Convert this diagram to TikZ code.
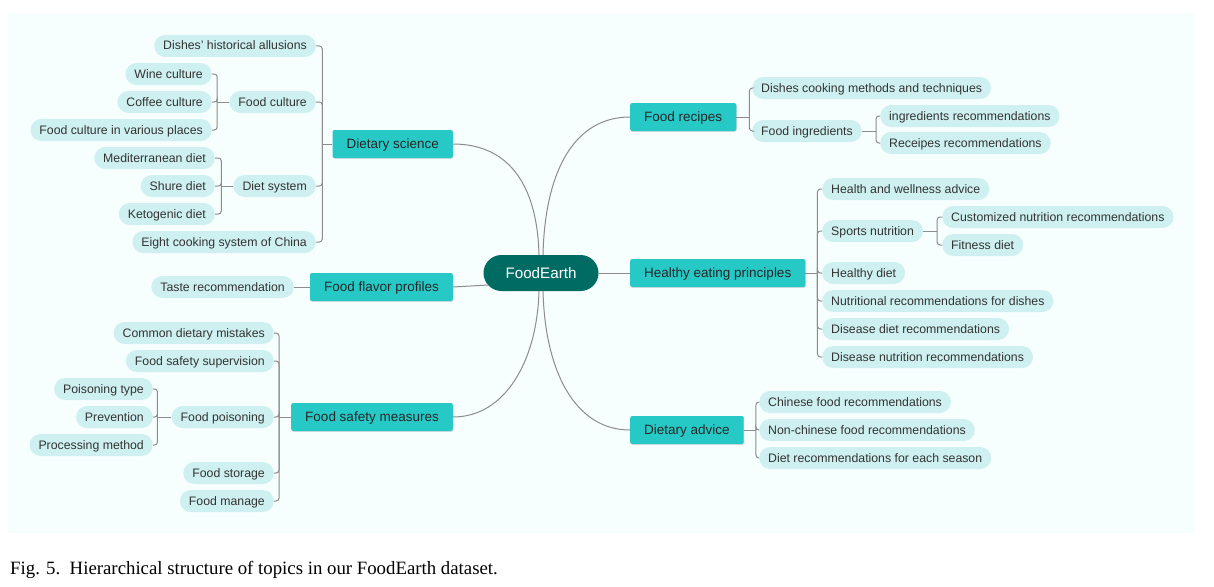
\documentclass[tikz,border=0pt]{standalone}
\usepackage{fontspec}
\setmainfont{Liberation Sans}
\newfontfamily\capfont{Liberation Serif}
\usetikzlibrary{shadows,calc}
\definecolor{bgc}{RGB}{247,254,254}
\definecolor{mainc}{RGB}{38,201,198}
\definecolor{leafc}{RGB}{207,240,240}
\definecolor{rootc}{RGB}{0,107,99}
\definecolor{linec}{RGB}{140,140,140}
\definecolor{txtc}{RGB}{51,51,51}
\begin{document}
\begin{tikzpicture}[x=1pt,y=-1pt,
  leaf/.style={fill=leafc, rounded corners=11pt, minimum height=22pt, inner xsep=9pt, inner ysep=0pt,
    text height=10.5pt, text depth=2.5pt, text=txtc, font=\fontsize{12.3}{14}\selectfont},
  topic/.style={fill=mainc, rounded corners=2pt, minimum height=28pt, inner xsep=14pt, inner ysep=0pt,
    text height=11.5pt, text depth=2.5pt, text=black!85, font=\fontsize{13.5}{16}\selectfont,
    drop shadow={shadow xshift=0.6pt, shadow yshift=-0.9pt, opacity=0.25, fill=black!50}},
  rootn/.style={fill=rootc, rounded corners=18pt, minimum height=36pt, minimum width=115pt, inner xsep=10pt,
    inner ysep=0pt, text height=12.5pt, text depth=2pt, text=white, font=\fontsize{15.2}{18}\selectfont},
  conn/.style={draw=linec, line width=1pt},
  br/.style={conn, rounded corners=3pt}]
\useasboundingbox (0,0) rectangle (1214,586);
\fill[white] (0,0) rectangle (1214,586);
\fill[bgc] (8,13) rectangle (1195,533);

% root and topics
\node[rootn] (root) at (541,273) {FoodEarth};
\node[topic, anchor=east] (ds) at (453,144) {Dietary science};
\node[topic, anchor=east] (ff) at (453,287) {Food flavor profiles};
\node[topic, anchor=east] (fs) at (453,417) {Food safety measures};
\node[topic, anchor=west] (fr) at (630,117) {Food recipes};
\node[topic, anchor=west] (he) at (630,273) {Healthy eating principles};
\node[topic, anchor=west] (da) at (630,430) {Dietary advice};

% Dietary science
\node[leaf, anchor=east] (dha) at (316,46) {Dishes’ historical allusions};
\node[leaf, anchor=east] (fc) at (316,102) {Food culture};
\node[leaf, anchor=east] (dsy) at (316,186) {Diet system};
\node[leaf, anchor=east] (ecs) at (316,242) {Eight cooking system of China};
\node[leaf, anchor=east] (wc) at (212,74) {Wine culture};
\node[leaf, anchor=east] (cc) at (212,102) {Coffee culture};
\node[leaf, anchor=east] (fcv) at (212,130) {Food culture in various places};
\node[leaf, anchor=east] (md) at (215,158) {Mediterranean diet};
\node[leaf, anchor=east] (sd) at (215,186) {Shure diet};
\node[leaf, anchor=east] (kd) at (215,214) {Ketogenic diet};

% Food flavor
\node[leaf, anchor=east] (tr) at (294,287) {Taste recommendation};

% Food safety
\node[leaf, anchor=east] (cdm) at (274,333) {Common dietary mistakes};
\node[leaf, anchor=east] (fss) at (274,361) {Food safety supervision};
\node[leaf, anchor=east] (fp) at (274,417) {Food poisoning};
\node[leaf, anchor=east] (fst) at (274,473) {Food storage};
\node[leaf, anchor=east] (fm) at (274,501) {Food manage};
\node[leaf, anchor=east] (pt) at (153,389) {Poisoning type};
\node[leaf, anchor=east] (pv) at (153,417) {Prevention};
\node[leaf, anchor=east] (pm) at (153,445) {Processing method};

% Food recipes
\node[leaf, anchor=west] (dcm) at (752,88) {Dishes cooking methods and techniques};
\node[leaf, anchor=west] (fi) at (752,131) {Food ingredients};
\node[leaf, anchor=west] (ir) at (880,116) {ingredients recommendations};
\node[leaf, anchor=west] (rr) at (880,143) {Receipes recommendations};

% Healthy eating
\node[leaf, anchor=west] (hw) at (822,189) {Health and wellness advice};
\node[leaf, anchor=west] (sn) at (822,231) {Sports nutrition};
\node[leaf, anchor=west] (hd) at (822,273) {Healthy diet};
\node[leaf, anchor=west] (nr) at (822,301) {Nutritional recommendations for dishes};
\node[leaf, anchor=west] (ddr) at (822,329) {Disease diet recommendations};
\node[leaf, anchor=west] (dnr) at (822,357) {Disease nutrition recommendations};
\node[leaf, anchor=west] (cn) at (942,217) {Customized nutrition recommendations};
\node[leaf, anchor=west] (fd) at (942,245) {Fitness diet};

% Dietary advice
\node[leaf, anchor=west] (cf) at (759,402) {Chinese food recommendations};
\node[leaf, anchor=west] (nc) at (759,430) {Non-chinese food recommendations};
\node[leaf, anchor=west] (dr) at (759,458) {Diet recommendations for each season};

% root connectors
\coordinate (rtL) at ($(root.north)+(-2,0)$);
\coordinate (rtR) at ($(root.north)+(2,0)$);
\coordinate (rbL) at ($(root.south)+(-2,0)$);
\coordinate (rbR) at ($(root.south)+(2,0)$);
\coordinate (rfl) at ($(root.center)+(-52.5,12)$);
\draw[conn] (ds.east) .. controls +(52,0) and +(-2,-75) .. (rtL);
\draw[conn] (fr.west) .. controls +(-55,0) and +(2,-85) .. (rtR);
\draw[conn] (fs.east) .. controls +(52,0) and +(-2,70) .. (rbL);
\draw[conn] (da.west) .. controls +(-55,0) and +(2,80) .. (rbR);
\draw[conn] (ff.east) -- (rfl);
\draw[conn] (root.east) -- (he.west);

% brackets, left side
\coordinate (dsB) at ($(ds.west)+(-10,0)$);
\draw[conn] (ds.west) -- (dsB);
\foreach \c in {dha,fc,dsy,ecs} \draw[br] (dsB) |- (\c.east);
\coordinate (fcB) at ($(fc.west)+(-12,0)$);
\draw[conn] (fc.west) -- (fcB);
\foreach \c in {wc,cc,fcv} \draw[br] (fcB) |- (\c.east);
\coordinate (dsyB) at ($(dsy.west)+(-12,0)$);
\draw[conn] (dsy.west) -- (dsyB);
\foreach \c in {md,sd,kd} \draw[br] (dsyB) |- (\c.east);
\draw[conn] (tr.east) -- (ff.west);
\coordinate (fsB) at ($(fs.west)+(-12,0)$);
\draw[conn] (fs.west) -- (fsB);
\foreach \c in {cdm,fss,fp,fst,fm} \draw[br] (fsB) |- (\c.east);
\coordinate (fpB) at ($(fp.west)+(-14,0)$);
\draw[conn] (fp.west) -- (fpB);
\foreach \c in {pt,pv,pm} \draw[br] (fpB) |- (\c.east);

% brackets, right side
\coordinate (frB) at ($(fr.east)+(13,0)$);
\draw[conn] (fr.east) -- (frB);
\foreach \c in {dcm,fi} \draw[br] (frB) |- (\c.west);
\coordinate (fiB) at ($(fi.east)+(14,0)$);
\draw[conn] (fi.east) -- (fiB);
\foreach \c in {ir,rr} \draw[br] (fiB) |- (\c.west);
\coordinate (heB) at ($(he.east)+(12,0)$);
\draw[conn] (he.east) -- (heB);
\foreach \c in {hw,sn,hd,nr,ddr,dnr} \draw[br] (heB) |- (\c.west);
\coordinate (snB) at ($(sn.east)+(14,0)$);
\draw[conn] (sn.east) -- (snB);
\foreach \c in {cn,fd} \draw[br] (snB) |- (\c.west);
\coordinate (daB) at ($(da.east)+(12,0)$);
\draw[conn] (da.east) -- (daB);
\foreach \c in {cf,nc,dr} \draw[br] (daB) |- (\c.west);

% caption
\node[anchor=base west, inner sep=0pt, font=\capfont\fontsize{18.8}{22}\selectfont] (cap) at (10,574)
  {Fig. 5.\hskip0.5em Hierarchical structure of topics in our FoodEarth dataset.};
\end{tikzpicture}
\end{document}
